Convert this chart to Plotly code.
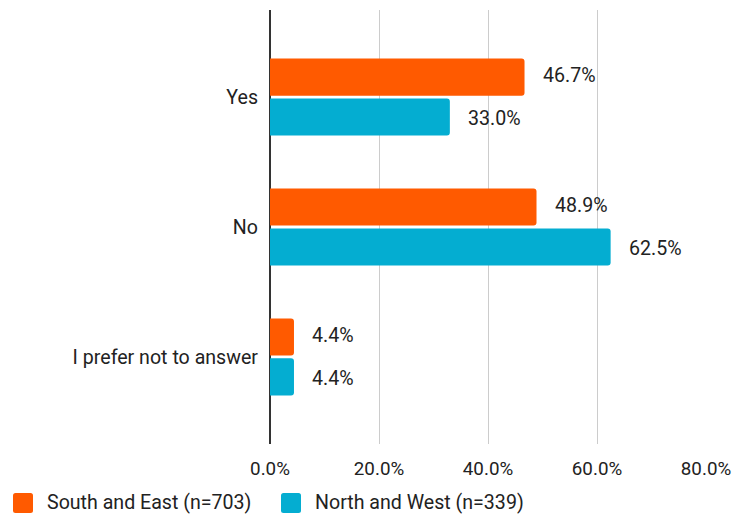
import plotly.graph_objects as go

categories = ["Yes", "No", "I prefer not to answer"]
south_east = [46.7, 48.9, 4.4]
north_west = [33.0, 62.5, 4.4]
series_names = ["South and East (n=703)", "North and West (n=339)"]
tick_values = [0, 20, 40, 60, 80]
tick_labels = ["0.0%", "20.0%", "40.0%", "60.0%", "80.0%"]

colors = ["#FF5A00", "#04ADD1"]
font = dict(family="Roboto, Arial, sans-serif", size=19.6, color="#222222")
tick_font = dict(family="Roboto, Arial, sans-serif", size=18.8, color="#222222")

W, H = 733, 518
ML, MR, MT, MB = 270, 27, 10, 74
PW, PH = W - ML - MR, H - MT - MB


def px_to_paper(px, py):
    return (px - ML) / PW, (H - MB - py) / PH


fig = go.Figure()
for name, vals, col in zip(series_names, [south_east, north_west], colors):
    fig.add_trace(go.Bar(
        y=categories, x=vals, name=name, orientation="h",
        marker=dict(color=col, line=dict(width=0), cornerradius=3),
        hoverinfo="skip", showlegend=False,
    ))

# value labels placed just right of each bar
for idx, vals in enumerate([south_east, north_west]):
    off = -0.165 if idx == 0 else 0.165
    for i, v in enumerate(vals):
        fig.add_annotation(
            x=v, y=i + off, yref="y", xref="x",
            text=f"{v:.1f}%", showarrow=False,
            xanchor="left", xshift=16, font=font,
        )

# legend: rounded swatches with labels beneath the plot
legend_x = [13, 281]
for lx, name, col in zip(legend_x, series_names, colors):
    x0, y0 = px_to_paper(lx, 513)
    x1, y1 = px_to_paper(lx + 20, 493)
    r = 2.5 / PW
    ry = 2.5 / PH
    path = (f"M {x0 + r},{y0} L {x1 - r},{y0} Q {x1},{y0} {x1},{y0 + ry} "
            f"L {x1},{y1 - ry} Q {x1},{y1} {x1 - r},{y1} "
            f"L {x0 + r},{y1} Q {x0},{y1} {x0},{y1 - ry} "
            f"L {x0},{y0 + ry} Q {x0},{y0} {x0 + r},{y0} Z")
    fig.add_shape(type="path", path=path, xref="paper", yref="paper",
                  fillcolor=col, line=dict(width=0), layer="above")
    tx, ty = px_to_paper(lx + 32, 503)
    fig.add_annotation(x=tx, y=ty, xref="paper", yref="paper", text=name,
                       showarrow=False, xanchor="left", yanchor="middle",
                       font=font)

fig.update_layout(
    width=W, height=H,
    margin=dict(l=ML, r=MR, t=MT, b=MB, autoexpand=False),
    paper_bgcolor="white", plot_bgcolor="white",
    barmode="group", bargap=0.385, bargroupgap=0.07,
    font=font,
    showlegend=False,
    xaxis=dict(range=[0, 80], tickvals=tick_values, ticktext=tick_labels,
               tickfont=tick_font,
               showgrid=True, gridcolor="#CCCCCC", gridwidth=1,
               zeroline=True, zerolinecolor="#333333", zerolinewidth=1.5,
               showline=False, ticks="", ticklabelstandoff=11, fixedrange=True),
    yaxis=dict(type="category", categoryorder="array", categoryarray=categories,
               range=[2.67, -0.67], showgrid=False, showline=False, ticks="",
               ticklabelstandoff=11, fixedrange=True),
)

fig.write_html("out.html")
